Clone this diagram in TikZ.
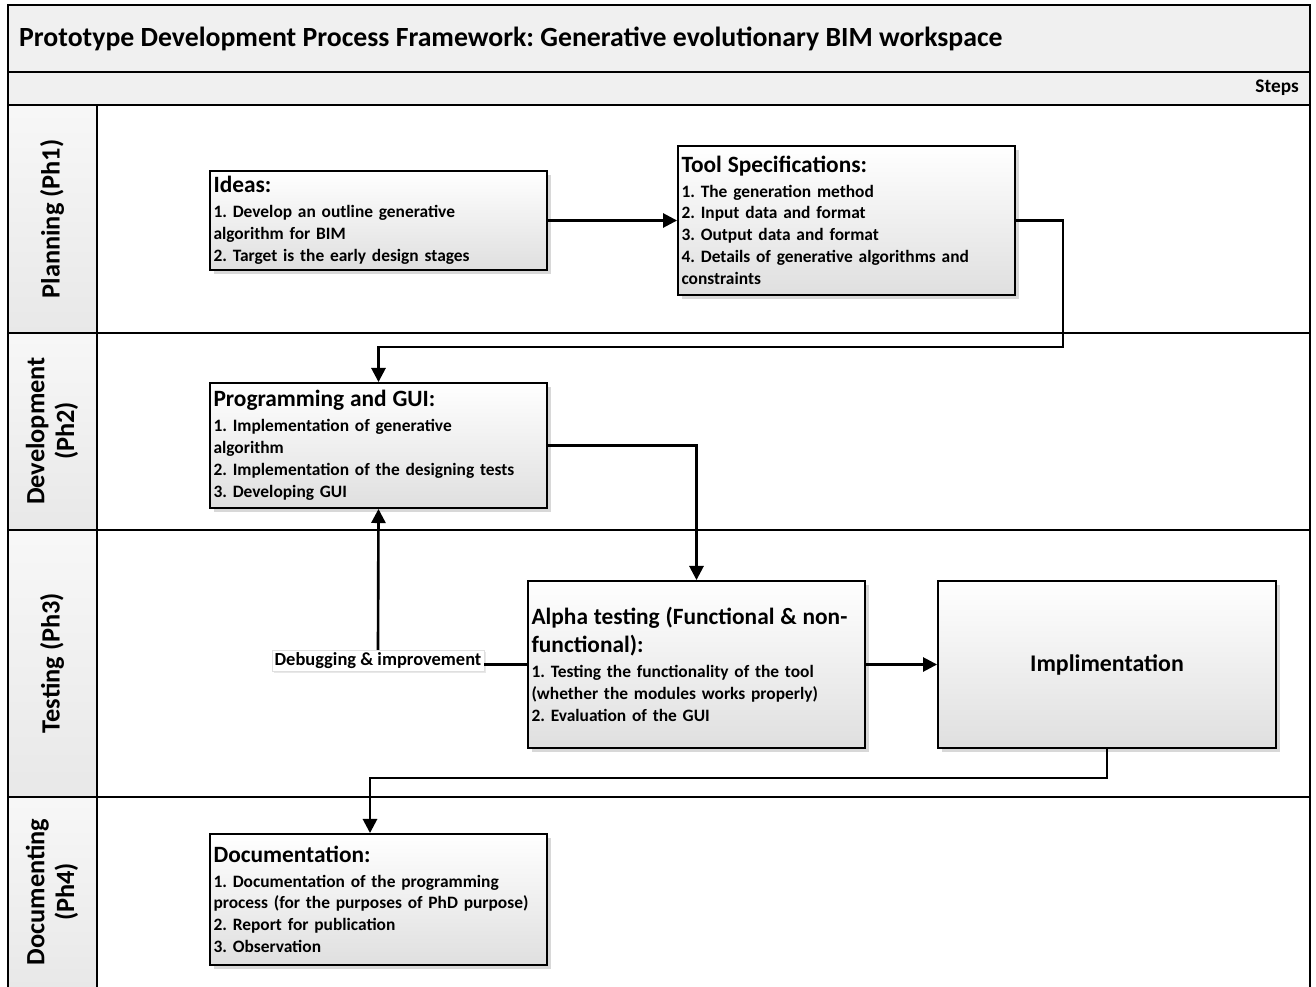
\documentclass[tikz,border=0pt]{standalone}
\usepackage{fontspec}
\setmainfont{Carlito}
\usetikzlibrary{arrows.meta,shadows,positioning}
\newcommand{\stephead}[1]{{\fontsize{13.3}{16}\selectfont #1\par}\vspace{1.5pt}}
\frenchspacing

\begin{document}
\begin{tikzpicture}[x=0.02cm, y=-0.02cm,
	stepbox/.style={draw, line width=1.1pt, top color=white, bottom color=gray!25,
		drop shadow={shadow xshift=2.5pt, shadow yshift=-2.5pt, fill=gray!60},
		minimum width=6.74cm, text width=6.6cm, align=left, inner xsep=1.8pt, inner ysep=3pt,
		font=\bfseries\fontsize{9.9}{12.5}\selectfont},
	flow/.style={line width=1.5pt, -{Triangle[length=8pt,width=8pt]}},
	lanehead/.style={rotate=90, align=center, font=\bfseries\fontsize{15}{17}\selectfont},
	lane/.style={line width=1pt}]
	\useasboundingbox (0,0) rectangle (1316,987);
	% header bars
	\shade[top color=gray!12, middle color=white, bottom color=gray!12] (8,5) rectangle (1310,72);
	\shade[top color=gray!12, middle color=white, bottom color=gray!12] (8,72) rectangle (1310,105);
	\node[anchor=west, font=\bfseries\fontsize{15.8}{18}\selectfont] (title) at (13,39) {Prototype Development Process Framework: Generative evolutionary BIM workspace};
	\node[anchor=east, font=\bfseries\fontsize{11}{13}\selectfont] (steps) at (1305,88) {Steps};
	% lane labels
	\foreach \ya/\yb in {105/333, 333/530, 530/797, 797/987}
		\shade[top color=gray!6, bottom color=gray!18] (8,\ya) rectangle (97,\yb);
	\node[lanehead] (ph1) at (52,219) {Planning (Ph1)};
	\node[lanehead] (ph2) at (52,431) {Development\\(Ph2)};
	\node[lanehead] (ph3) at (52,663) {Testing (Ph3)};
	\node[lanehead] (ph4) at (52,892) {Documenting\\(Ph4)};
	% frame
	\draw[lane] (8,987) -- (8,5) -- (1310,5) -- (1310,987);
	\foreach \y in {72, 105, 333, 530, 797}
		\draw[lane] (8,\y) -- (1310,\y);
	\draw[lane] (97,105) -- (97,987);
	% steps
	\node[stepbox, minimum height=1.98cm] (ideas) at (378.5,220.5) {\stephead{Ideas:}1. Develop an outline generative\\algorithm for BIM\\2. Target is the early design stages};
	\node[stepbox, minimum height=2.98cm] (tool) at (846.5,220.5) {\stephead{Tool Specifications:}1. The generation method\\2. Input data and format\\3. Output data and format\\4. Details of generative algorithms and\\constraints};
	\node[stepbox, minimum height=2.5cm] (prog) at (378.5,445.5) {\stephead{Programming and GUI:}1. Implementation of generative\\algorithm\\2. Implementation of the designing tests\\3. Developing GUI};
	\node[stepbox, minimum height=3.34cm] (alpha) at (696.5,664.5) {\stephead{Alpha testing (Functional \& non-\\functional):}1. Testing the functionality of the tool\\(whether the modules works properly)\\2. Evaluation of the GUI};
	\node[stepbox, minimum height=3.34cm, minimum width=6.76cm, align=center, font=\bfseries\fontsize{13.6}{16}\selectfont] (impl) at (1107,664.5) {Implimentation};
	\node[stepbox, minimum height=2.62cm] (doc) at (378.5,899.5) {\stephead{Documentation:}1. Documentation of the programming\\process (for the purposes of PhD purpose)\\2. Report for publication\\3. Observation};
	\node[draw=gray!25, fill=white, inner sep=1.5pt, drop shadow={shadow xshift=1pt, shadow yshift=-1pt, fill=gray!35}, font=\bfseries\fontsize{10.5}{12}\selectfont] (dbg) at (378,661) {Debugging \& improvement};
	% connectors
	\coordinate (turn1) at (1063,347);
	\coordinate (turn2) at (370,778);
	\draw[flow] (ideas) -- (tool);
	\draw[flow] (tool.east) -| (turn1) -| (prog.north);
	\draw[flow] (prog.east) -| (alpha.north);
	\draw[line width=1.5pt] (alpha.west) -- (alpha.west -| dbg.east);
	\draw[flow] (dbg.north) -- (prog.south);
	\draw[flow] (alpha) -- (impl);
	\draw[flow] (impl.south) |- (turn2) -- (turn2 |- doc.north);
\end{tikzpicture}
\end{document}
